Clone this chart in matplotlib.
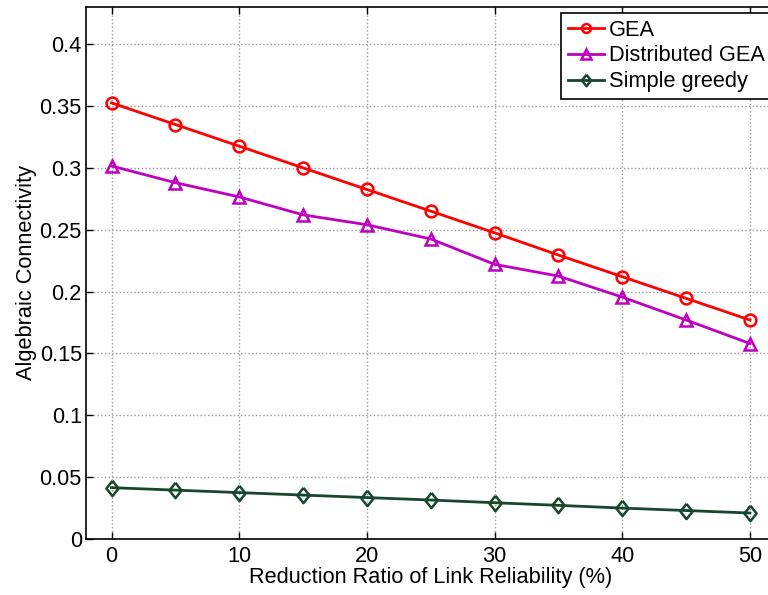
import matplotlib
matplotlib.use("Agg")
import matplotlib.pyplot as plt

x = [0, 5, 10, 15, 20, 25, 30, 35, 40, 45, 50]
gea = [0.3525, 0.335, 0.3175, 0.300, 0.2825, 0.265, 0.2475, 0.2295, 0.212, 0.1945, 0.177]
dgea = [0.3015, 0.288, 0.2765, 0.262, 0.254, 0.2425, 0.222, 0.2125, 0.1955, 0.177, 0.158]
greedy = [0.0415, 0.0395, 0.0375, 0.0355, 0.0335, 0.0315, 0.0293, 0.0272, 0.025, 0.023, 0.021]
xticks = [0, 10, 20, 30, 40, 50]
yticks = [0, 0.05, 0.1, 0.15, 0.2, 0.25, 0.3, 0.35, 0.4]
ytick_labels = ["0", "0.05", "0.1", "0.15", "0.2", "0.25", "0.3", "0.35", "0.4"]

plt.rcParams['font.family'] = ['Liberation Sans', 'DejaVu Sans']
FS = 15.7

fig = plt.figure(figsize=(7.68, 5.95), dpi=100)
W, H = 768, 595
x0, x1 = 86, 775.5
y0, y1 = 539, 7
ax = fig.add_axes([x0 / W, 1 - y0 / H, (x1 - x0) / W, (y0 - y1) / H])

diamond = [(0, 1), (0.8, 0), (0, -1), (-0.8, 0), (0, 1)]
ax.plot(x, gea, color='#ff0000', lw=2, marker='o', ms=8.5, mfc='none', mew=1.8, label='GEA')
ax.plot(x, dgea, color='#c000c0', lw=2, marker='^', ms=9, mfc='none', mew=1.8, label='Distributed GEA')
ax.plot(x, greedy, color='#16472c', lw=2, marker=diamond, ms=11, mfc='none', mew=1.8, label='Simple greedy')

ax.set_xlim(-2, 52)
ax.set_ylim(0, 0.43)
ax.set_xticks(xticks)
ax.set_yticks(yticks)
ax.set_yticklabels(ytick_labels)
ax.tick_params(direction='in', top=True, right=True, labelsize=FS, length=5, width=1)
ax.tick_params(axis='y', pad=3)
ax.tick_params(axis='x', pad=5)
ax.grid(True, linestyle=':', color='#999999', linewidth=1)
for s in ax.spines.values():
    s.set_linewidth(1.2)

ax.set_xlabel('Reduction Ratio of Link Reliability (%)', fontsize=FS, labelpad=0)
ax.set_ylabel('Algebraic Connectivity', fontsize=FS, labelpad=2)

leg = ax.legend(loc='upper left', fontsize=FS, fancybox=False, framealpha=1,
                edgecolor='black', handlelength=1.65, borderpad=0.3, labelspacing=0.22,
                handletextpad=0.23, borderaxespad=0, markerscale=0.75,
                bbox_to_anchor=((561 - x0) / (x1 - x0), (y0 - 13) / (y0 - y1)))
leg.get_frame().set_linewidth(1.2)

fig.savefig('out.png', dpi=100)
